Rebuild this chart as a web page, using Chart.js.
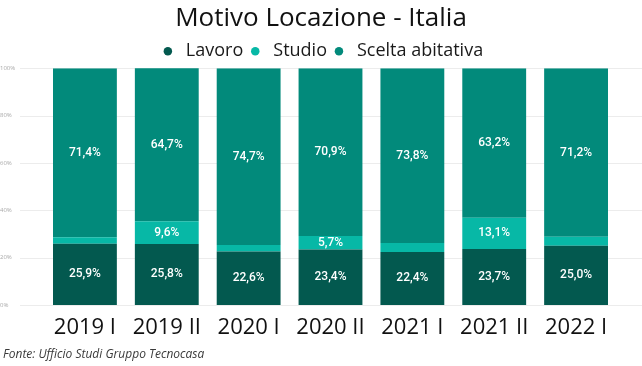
<!DOCTYPE html>
<html>
<head>
<meta charset="utf-8">
<script src="https://cdn.jsdelivr.net/npm/chart.js@4/dist/chart.umd.min.js"></script>
<style>
  html, body { margin: 0; padding: 0; background: #ffffff; }
  #wrap { position: relative; width: 642px; height: 366px; }
  canvas { display: block; }
</style>
</head>
<body>
<div id="wrap"><canvas id="c" width="642" height="366"></canvas></div>
<script>
const categories = ["2019 I", "2019 II", "2020 I", "2020 II", "2021 I", "2021 II", "2022 I"];
const lavoro = [25.9, 25.8, 22.6, 23.4, 22.4, 23.7, 25.0];
const studio = [2.7, 9.6, 2.7, 5.7, 3.8, 13.1, 3.8];
const sceltaAbitativa = [71.4, 64.7, 74.7, 70.9, 73.8, 63.2, 71.2];
const yTicks = [0, 20, 40, 60, 80, 100];
const seriesNames = ["Lavoro", "Studio", "Scelta abitativa"];
const titleText = "Motivo Locazione - Italia";
const sourceText = "Fonte: Ufficio Studi Gruppo Tecnocasa";

const colors = ["#03594f", "#07b8a6", "#028a7b"];

const gridPlugin = {
  id: "fullGrid",
  beforeDatasetsDraw(chart) {
    const ctx = chart.ctx, y = chart.scales.y;
    ctx.save();
    ctx.strokeStyle = "#ececec";
    ctx.lineWidth = 1;
    yTicks.forEach(v => {
      const py = Math.round(y.getPixelForValue(v)) + 0.5;
      ctx.beginPath();
      ctx.moveTo(20, py);
      ctx.lineTo(642, py);
      ctx.stroke();
    });
    ctx.restore();
  }
};

const labelPlugin = {
  id: "segLabels",
  afterDatasetsDraw(chart) {
    const ctx = chart.ctx;
    ctx.save();
    ctx.font = "500 12px Roboto";
    ctx.fillStyle = "#ffffff";
    ctx.textAlign = "center";
    ctx.textBaseline = "middle";
    chart.data.datasets.forEach((ds, i) => {
      const meta = chart.getDatasetMeta(i);
      meta.data.forEach((bar, j) => {
        const v = ds.data[j];
        if (v < 5) return;
        const cy = (bar.y + bar.base) / 2;
        ctx.fillText(v.toFixed(1).replace(".", ",") + "%", bar.x, cy);
      });
    });
    ctx.restore();
  }
};

const sourcePlugin = {
  id: "sourceText",
  afterDraw(chart) {
    const ctx = chart.ctx;
    ctx.save();
    ctx.font = "italic 12px 'Open Sans'";
    ctx.fillStyle = "#3a3a3a";
    ctx.textAlign = "left";
    ctx.textBaseline = "middle";
    ctx.fillText(sourceText, 3, 355);
    ctx.restore();
  }
};

new Chart(document.getElementById("c"), {
  type: "bar",
  data: {
    labels: categories,
    datasets: [
      { label: seriesNames[0], data: lavoro, backgroundColor: colors[0] },
      { label: seriesNames[1], data: studio, backgroundColor: colors[1] },
      { label: seriesNames[2], data: sceltaAbitativa, backgroundColor: colors[2] }
    ]
  },
  options: {
    responsive: false,
    animation: false,
    devicePixelRatio: 1,
    layout: { padding: { left: 0, right: 0, top: 0, bottom: 28 } },
    datasets: { bar: { categoryPercentage: 1, barPercentage: 0.78, borderWidth: 0 } },
    plugins: {
      title: {
        display: true,
        text: titleText,
        color: "#111111",
        font: { family: "'Open Sans'", size: 26, weight: "normal" },
        padding: { top: 3, bottom: 5 }
      },
      legend: {
        display: true,
        maxHeight: 29,
        labels: {
          usePointStyle: true,
          pointStyle: "circle",
          boxWidth: 18,
          boxHeight: 6,
          padding: 3,
          color: "#1a1a1a",
          font: { family: "'Open Sans'", size: 18 }
        }
      },
      tooltip: { enabled: false }
    },
    scales: {
      x: {
        stacked: true,
        grid: { display: false },
        border: { display: false },
        ticks: { color: "#111111", font: { family: "'Open Sans'", size: 22 }, padding: 2, maxRotation: 0 },
        afterFit(s) { s.height = 33; }
      },
      y: {
        stacked: true,
        min: 0,
        max: 100,
        afterBuildTicks(s) { s.ticks = yTicks.map(v => ({ value: v })); },
        grid: { display: false },
        border: { display: false },
        ticks: {
          color: "#aaaaaa",
          crossAlign: "far",
          font: { family: "'Open Sans'", size: 6 },
          callback: v => v + "%"
        },
        afterFit(s) { s.width = 44; }
      },
      yRight: {
        position: "right",
        display: true,
        min: 0,
        max: 100,
        grid: { display: false },
        border: { display: false },
        ticks: { display: false },
        afterFit(s) { s.width = 25; }
      }
    }
  },
  plugins: [gridPlugin, labelPlugin, sourcePlugin]
});
</script>
</body>
</html>
